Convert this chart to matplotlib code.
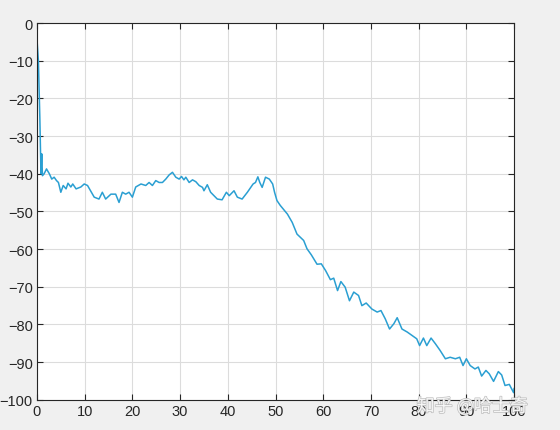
import matplotlib
matplotlib.use('Agg')
import matplotlib.pyplot as plt
import matplotlib.patheffects as pe
import numpy as np

# trace (x, dB)
x_vals = [0, 0.3, 0.6, 0.84, 1.0, 1.15, 1.5, 2.0, 2.6, 3.1, 3.6, 4.1, 4.5, 5.0, 5.5,
          6.1, 6.5, 7.1, 7.5, 8.2, 9.2, 9.9, 10.6, 11.4, 12.0, 13.0, 13.7, 14.4, 15.5,
          16.5, 17.2, 17.9, 18.6, 19.3, 20.0, 20.7, 21.8, 22.8, 23.5, 24.2, 24.9, 25.6,
          26.3, 27.0, 27.7, 28.4, 29.1, 29.8, 30.3, 30.8, 31.2, 31.9, 32.6, 33.3, 34.0,
          34.7, 35.0, 35.7, 36.4, 37.1, 37.8, 38.8, 39.7, 40.3, 41.3, 42.0, 43.0, 44.1,
          44.8, 45.3, 45.8, 46.3, 46.7, 47.2, 47.9, 48.7, 49.4, 49.8, 50.3, 51.0, 52.5,
          53.5, 54.5, 55.9, 56.6, 57.5, 58.7, 59.6, 60.5, 61.5, 62.2, 63.0, 63.7, 64.6,
          65.5, 66.4, 67.4, 68.1, 69.0, 70.2, 71.3, 72.1, 73.0, 73.9, 74.8, 75.5, 76.5,
          77.6, 78.6, 79.6, 80.2, 81.0, 81.7, 82.6, 83.5, 84.5, 85.6, 86.6, 87.7, 88.6,
          89.3, 90.0, 90.8, 91.8, 92.5, 93.2, 94.1, 94.8, 95.7, 96.7, 97.4, 98.1, 99.0,
          99.9, 100.0]
y_vals = [-4.2, -10, -25, -40.0, -34.7, -40.5, -40.0, -38.7, -40.0, -41.4, -40.9, -41.8,
          -42.3, -44.9, -43.1, -44.0, -42.5, -43.5, -42.7, -44.0, -43.5, -42.7, -43.1,
          -44.9, -46.2, -46.7, -44.9, -46.7, -45.4, -45.4, -47.6, -44.9, -45.4, -44.9,
          -46.2, -43.5, -42.7, -43.1, -42.3, -43.1, -41.8, -42.3, -42.3, -41.4, -40.3,
          -39.6, -40.9, -41.4, -40.7, -41.6, -40.9, -42.3, -41.6, -42.1, -43.1, -43.6,
          -44.5, -42.9, -44.9, -45.8, -46.7, -46.9, -44.9, -45.8, -44.5, -46.2, -46.7,
          -44.9, -43.6, -42.7, -42.3, -40.8, -42.3, -43.6, -40.9, -41.4, -42.7, -44.9,
          -47.1, -48.4, -50.7, -52.9, -56.0, -57.7, -59.9, -61.5, -64.0, -63.9, -65.7,
          -68.1, -67.7, -71.0, -68.6, -70.1, -73.7, -71.4, -72.3, -75.0, -74.3, -75.9,
          -76.7, -76.3, -78.5, -81.2, -79.8, -78.2, -81.2, -82.0, -82.9, -83.8, -85.6,
          -83.6, -85.6, -83.6, -85.1, -86.9, -89.1, -88.7, -89.1, -88.7, -90.9, -89.1,
          -90.9, -91.8, -91.3, -93.7, -92.2, -93.1, -95.1, -92.5, -93.4, -96.2, -95.9,
          -98.1, -97.0]

x_ticks = list(range(0, 101, 10))
y_ticks = list(range(-100, 1, 10))

plt.rcParams['font.family'] = ['Liberation Sans', 'DejaVu Sans']

fig = plt.figure(figsize=(5.6, 4.31), dpi=100, facecolor='#f0f0f0')
ax = fig.add_axes([0.066, 0.070, 0.852, 0.874])
ax.plot(x_vals, y_vals, color='#2a9fd2', lw=1.1)

ax.set_xlim(0, 100)
ax.set_ylim(-100, 0)
ax.set_xticks(x_ticks)
ax.set_yticks(y_ticks)
ax.grid(True, color='#dcdcdc', lw=0.8)
ax.set_axisbelow(True)
ax.tick_params(direction='in', top=True, right=True, length=4, width=0.8,
               labelsize=10.5, colors='#262626', pad=3)
for s in ax.spines.values():
    s.set_color('#262626')
    s.set_linewidth(0.8)

# watermark
fig.text(0.843, 0.055, '知乎 @哈士奇', fontsize=13, color='white', alpha=0.85,
         ha='center', va='center', family=['Noto Sans CJK SC', 'DejaVu Sans'],
         path_effects=[pe.withStroke(linewidth=1.0, foreground='#b4b4b4')])

fig.savefig('out.png', dpi=100, facecolor=fig.get_facecolor())
